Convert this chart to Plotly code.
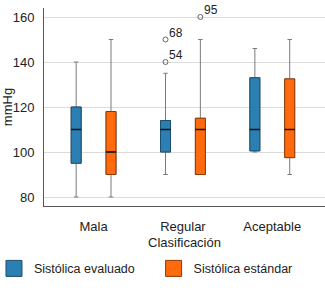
import plotly.graph_objects as go

categories = ["Mala", "Regular", "Aceptable"]
cat_pos = [0, 1, 2]

# Sistólica evaluado
ev_low = [80, 90, 100]
ev_q1 = [95, 100, 100.5]
ev_med = [110, 110, 110]
ev_q3 = [120, 114, 133]
ev_high = [140, 135, 146]

# Sistólica estándar
st_low = [80, 90, 90]
st_q1 = [90, 90, 97.5]
st_med = [100, 110, 110]
st_q3 = [118, 115, 132.5]
st_high = [150, 150, 150]

# outliers
out_series = ["ev", "ev", "st"]
out_cat = [1, 1, 1]
out_val = [150, 140, 160]
out_lab = ["68", "54", "95"]

series = {
    "ev": dict(name="Sistólica evaluado", fill="#2b7fb3", edge="#1c4e6e", legend="legend",
               low=ev_low, q1=ev_q1, med=ev_med, q3=ev_q3, high=ev_high, off=-0.195),
    "st": dict(name="Sistólica estándar", fill="#ff6a0e", edge="#8c3a05", legend="legend2",
               low=st_low, q1=st_q1, med=st_med, q3=st_q3, high=st_high, off=0.195),
}

FONT = "Liberation Sans, Arial, sans-serif"
BW = 0.112
fig = go.Figure()

for key, s in series.items():
    xs = [p + s["off"] for p in cat_pos]
    # whiskers
    fig.add_trace(go.Box(x=xs, q1=s["q1"], median=s["med"], q3=s["q3"],
                         lowerfence=s["low"], upperfence=s["high"], width=BW,
                         whiskerwidth=0.45, line=dict(color="#7a7a7a", width=1),
                         fillcolor="rgba(0,0,0,0)", showlegend=False, hoverinfo="skip"))
    # body
    fig.add_trace(go.Box(x=xs, q1=s["q1"], median=s["med"], q3=s["q3"],
                         lowerfence=s["q1"], upperfence=s["q3"], width=BW,
                         whiskerwidth=0, line=dict(color=s["edge"], width=1),
                         fillcolor=s["fill"], showlegend=False, hoverinfo="skip"))
    # median
    fig.add_trace(go.Box(x=xs, q1=s["med"], median=s["med"], q3=s["med"],
                         lowerfence=s["med"], upperfence=s["med"], width=BW,
                         whiskerwidth=0, line=dict(color="#111111", width=1.5),
                         fillcolor="rgba(0,0,0,0)", showlegend=False, hoverinfo="skip"))

ox = [c + series[k]["off"] for k, c in zip(out_series, out_cat)]
fig.add_trace(go.Scatter(x=ox, y=out_val, mode="markers", cliponaxis=False,
                         marker=dict(symbol="circle-open", size=5, color="#666",
                                     line=dict(width=1, color="#666")),
                         showlegend=False, hoverinfo="skip"))
for x, y, lab in zip(ox, out_val, out_lab):
    fig.add_annotation(x=x, y=y, text=lab, showarrow=False, xanchor="left",
                       yanchor="middle", xshift=1.5, yshift=7,
                       font=dict(family=FONT, size=12, color="#222"))

for key, s in series.items():
    fig.add_trace(go.Scatter(x=[None], y=[None], mode="markers", name=s["name"],
                             legend=s["legend"],
                             marker=dict(symbol="square", size=16, color=s["fill"],
                                         line=dict(color=s["edge"], width=1))))

leg_common = dict(orientation="h", xanchor="left", y=-0.317, yanchor="middle",
                  font=dict(family=FONT, size=12.5, color="#222"),
                  bgcolor="rgba(0,0,0,0)")

fig.update_layout(
    width=325, height=288,
    margin=dict(l=44, r=0, t=8, b=82, autoexpand=False),
    paper_bgcolor="white", plot_bgcolor="white",
    font=dict(family=FONT, size=13, color="#222"),
    showlegend=True,
    legend=dict(x=-0.178, **leg_common),
    legend2=dict(x=0.39, **leg_common),
    xaxis=dict(range=[-0.555, 2.59], tickvals=cat_pos, ticktext=categories,
               showgrid=False, zeroline=False, showline=True, linecolor="#555",
               linewidth=1, ticks="", ticklabelstandoff=8,
               title=dict(text="Clasificación", standoff=5,
                          font=dict(family=FONT, size=13, color="#222"))),
    yaxis=dict(range=[76, 164], tickvals=[80, 100, 120, 140, 160],
               showgrid=True, gridcolor="#dcdcdc", gridwidth=1, zeroline=False,
               showline=True, linecolor="#555", linewidth=1, ticks="",
               ticklabelstandoff=6,
               title=dict(text="mmHg", standoff=7,
                          font=dict(family=FONT, size=13, color="#222"))),
)

fig.write_html("out.html", config={"displayModeBar": False},
               post_script="document.body.style.margin='0';")
